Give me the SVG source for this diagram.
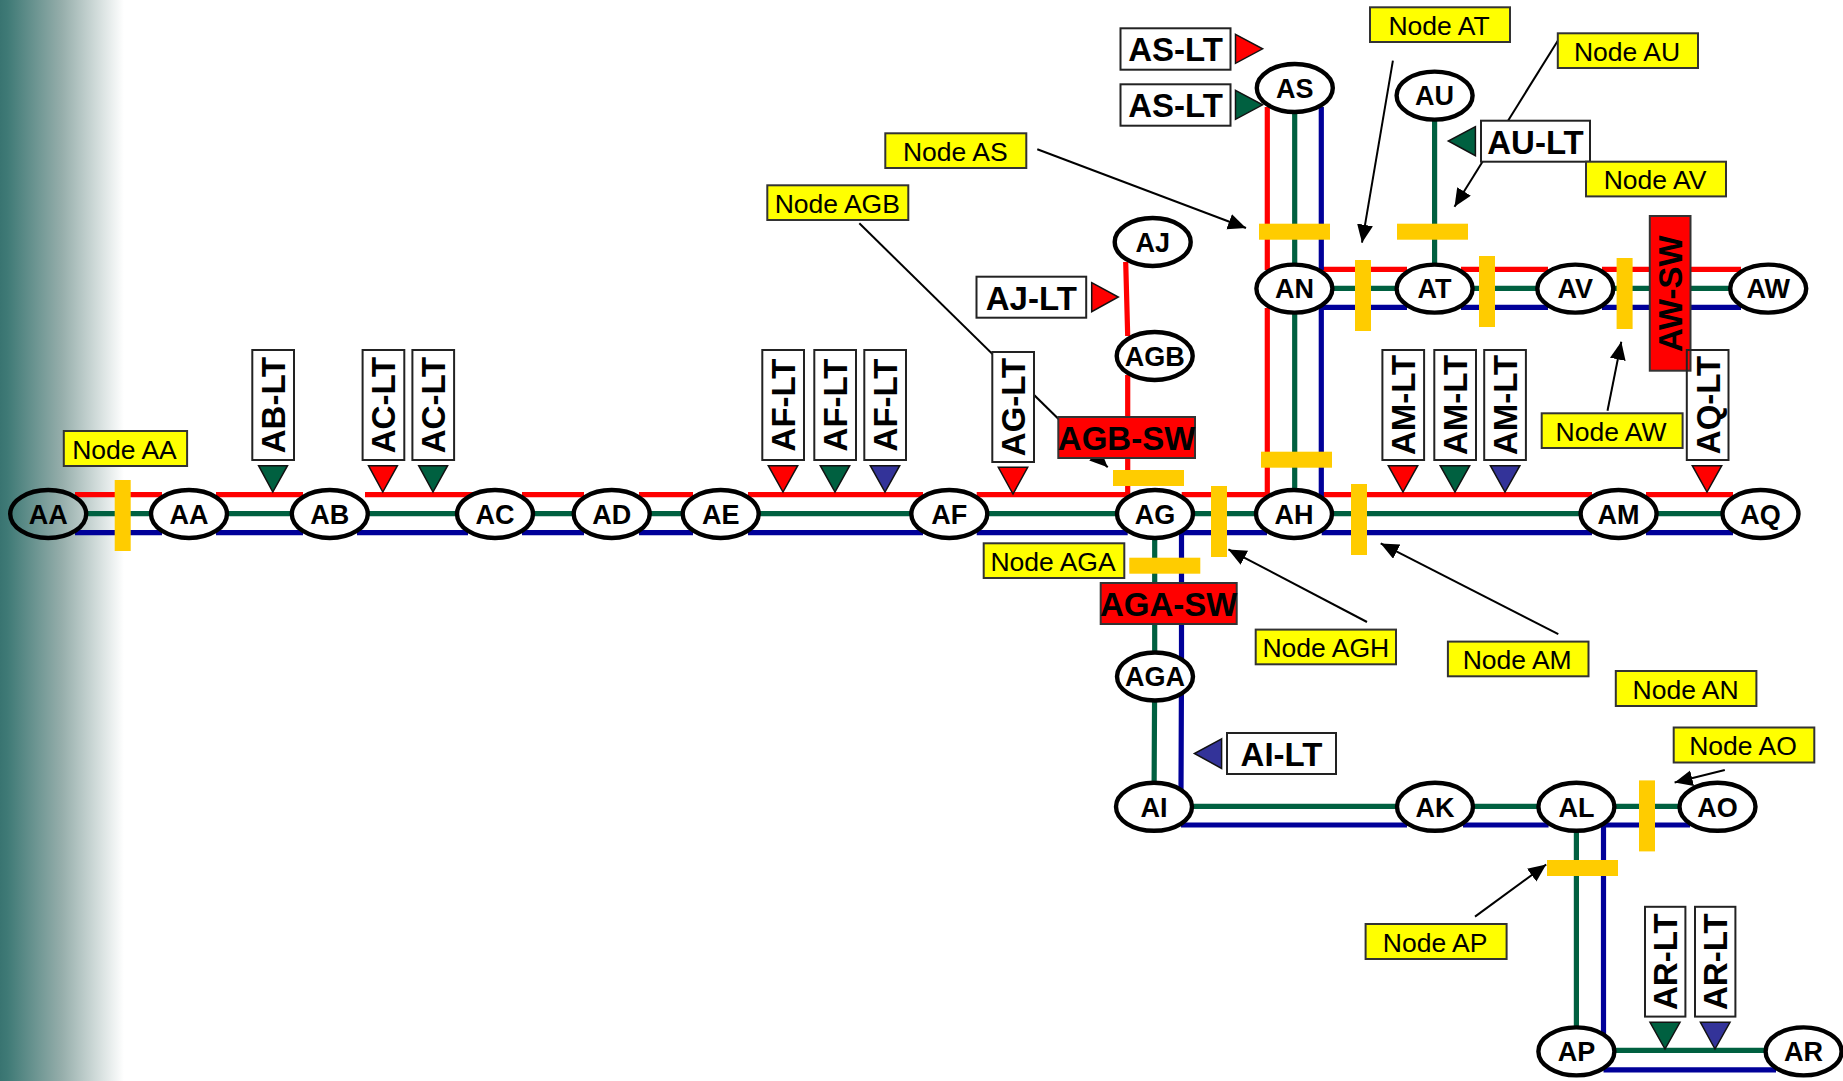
<svg xmlns="http://www.w3.org/2000/svg" width="1843" height="1081" viewBox="0 0 1843 1081">
<style>
text{font-family:"Liberation Sans",Arial,sans-serif;text-anchor:middle;fill:#000}
.n ellipse{fill:#fff;stroke:#000;stroke-width:4.4}
.n text{font-size:27px;font-weight:bold}
.y rect{fill:#ff0;stroke:#333;stroke-width:2}
.y text{font-size:26.5px}
.lt rect{fill:#fff;stroke:#222;stroke-width:2}
.lt text,.sw text{font-size:33px;font-weight:bold}
.sw rect{fill:#f00;stroke:#333;stroke-width:2}
.r,.g,.b{fill:none;stroke-width:5.2}
.r{stroke:#f00}.g{stroke:#006040}.b{stroke:#000099}
.bar{fill:#fc0}
.tr{fill:#f00}.tg{fill:#006040}.tb{fill:#333399}
.tri polygon{stroke:#111;stroke-width:1.5;stroke-linejoin:miter}
.ldr{stroke:#000;stroke-width:2;fill:none}
.arr{marker-end:url(#ah)}
</style>
<defs>
<linearGradient id="bg" x1="0" y1="0" x2="1" y2="0">
<stop offset="0" stop-color="#397471"/><stop offset="0.06" stop-color="#3f7a76"/><stop offset="0.5" stop-color="#96aeab"/><stop offset="1" stop-color="#fff"/>
</linearGradient>
<marker id="ah" markerUnits="userSpaceOnUse" markerWidth="20" markerHeight="18" refX="18" refY="8" orient="auto">
<path d="M0 0L18 8L0 16Z" fill="#000"/>
</marker>
</defs>
<rect x="0" y="0" width="124" height="1081" fill="url(#bg)"/>
<g id="connectors">
<path class="g" d="M88 513.7H1760M1294.7 107V513.7M1434.6 95V288.3M1294.7 288.3H1768M1154.7 513.7V676L1154 806.4H1717M1576.4 806.4V1050.4H1803"/>
<path class="r" d="M75 494.7H162M216 494.7H303M365 494.7H476M522 494.7H584M639 494.7H693M748 494.7H923M976.7 494.7H1127.7M1181.7 494.7H1267.3M1323 494.7H1592M1646 494.7H1733"/>
<path class="b" d="M75 532.7H162M216 532.7H303M357 532.7H468M522 532.7H584M639 532.7H693M748 532.7H923M976.7 532.7H1127.7M1180 532.7H1267M1321.7 532.7H1592M1646 532.7H1733"/>
<path class="r" d="M1267.3 107V270M1267.3 308V494.7M1322 269.3H1407M1461 269.3H1548M1602 269.3H1741"/>
<path class="b" d="M1321.3 107V270M1321.3 307V532.7M1322 307.3H1407M1461 307.3H1548M1602 307.3H1741"/>
<path class="r" d="M1125.7 262L1127.7 336M1127.7 375V494.7"/>
<path class="b" d="M1181.5 532.7V670L1181 790M1181 825H1407M1463 825H1548.6M1603.5 825H1690M1603.5 825V1036M1603.5 1069.8H1776"/>
<line class="ldr arr" x1="1037.3" y1="149.3" x2="1246" y2="228"/>
<line class="ldr arr" x1="1392.9" y1="60.7" x2="1362" y2="242.7"/>
<line class="ldr arr" x1="1557.8" y1="40.7" x2="1454.5" y2="206.7"/>
<line class="ldr arr" x1="1607.5" y1="410.7" x2="1621.3" y2="341.7"/>
<line class="ldr arr" x1="1367" y1="622" x2="1228.4" y2="549.4"/>
<line class="ldr arr" x1="1558.3" y1="634.2" x2="1380.7" y2="543.4"/>
<line class="ldr arr" x1="1724.8" y1="770" x2="1674.6" y2="782.5"/>
<line class="ldr arr" x1="1475" y1="916.6" x2="1546.2" y2="864.5"/>
<line class="ldr arr" x1="859.3" y1="223.3" x2="1107.7" y2="467.3"/>
</g>
<g id="bars">
<rect class="bar" x="114.7" y="480" width="16" height="71"/>
<rect class="bar" x="1211" y="486" width="16" height="71"/>
<rect class="bar" x="1351" y="484" width="16" height="71"/>
<rect class="bar" x="1259" y="223.7" width="71" height="16"/>
<rect class="bar" x="1261" y="451.7" width="71" height="16"/>
<rect class="bar" x="1113" y="470" width="71" height="16"/>
<rect class="bar" x="1129.3" y="557.7" width="71" height="16"/>
<rect class="bar" x="1397" y="223.7" width="71" height="16"/>
<rect class="bar" x="1355" y="260" width="16" height="71"/>
<rect class="bar" x="1479" y="256" width="16" height="71"/>
<rect class="bar" x="1616.6" y="258" width="16" height="71"/>
<rect class="bar" x="1639" y="780.4" width="16" height="71"/>
<rect class="bar" x="1547" y="860" width="71" height="16"/>
</g>
<g class="n" id="node-AA0"><ellipse cx="48.2" cy="514" rx="38" ry="24" style="fill:none"/><text x="48.2" y="523.8">AA</text></g>
<g class="n" id="node-AA"><ellipse cx="189" cy="514" rx="38" ry="24"/><text x="189" y="523.8">AA</text></g>
<g class="n" id="node-AB"><ellipse cx="329.8" cy="514" rx="38" ry="24"/><text x="329.8" y="523.8">AB</text></g>
<g class="n" id="node-AC"><ellipse cx="495" cy="514" rx="38" ry="24"/><text x="495" y="523.8">AC</text></g>
<g class="n" id="node-AD"><ellipse cx="611.7" cy="514" rx="38" ry="24"/><text x="611.7" y="523.8">AD</text></g>
<g class="n" id="node-AE"><ellipse cx="720.7" cy="514" rx="38" ry="24"/><text x="720.7" y="523.8">AE</text></g>
<g class="n" id="node-AF"><ellipse cx="949.3" cy="514" rx="38" ry="24"/><text x="949.3" y="523.8">AF</text></g>
<g class="n" id="node-AG"><ellipse cx="1155" cy="514" rx="38" ry="24"/><text x="1155" y="523.8">AG</text></g>
<g class="n" id="node-AH"><ellipse cx="1294" cy="514" rx="38" ry="24"/><text x="1294" y="523.8">AH</text></g>
<g class="n" id="node-AM"><ellipse cx="1618.6" cy="514" rx="38" ry="24"/><text x="1618.6" y="523.8">AM</text></g>
<g class="n" id="node-AQ"><ellipse cx="1760.5" cy="514" rx="38" ry="24"/><text x="1760.5" y="523.8">AQ</text></g>
<g class="n" id="node-AS"><ellipse cx="1294.8" cy="88" rx="38" ry="24"/><text x="1294.8" y="97.8">AS</text></g>
<g class="n" id="node-AU"><ellipse cx="1434.6" cy="95.6" rx="38" ry="24"/><text x="1434.6" y="105.4">AU</text></g>
<g class="n" id="node-AN"><ellipse cx="1294.4" cy="288.6" rx="38" ry="24"/><text x="1294.4" y="298.4">AN</text></g>
<g class="n" id="node-AT"><ellipse cx="1434.6" cy="288.6" rx="38" ry="24"/><text x="1434.6" y="298.4">AT</text></g>
<g class="n" id="node-AV"><ellipse cx="1575.3" cy="288.6" rx="38" ry="24"/><text x="1575.3" y="298.4">AV</text></g>
<g class="n" id="node-AW"><ellipse cx="1768.2" cy="288.6" rx="38" ry="24"/><text x="1768.2" y="298.4">AW</text></g>
<g class="n" id="node-AJ"><ellipse cx="1152.7" cy="242" rx="38" ry="24"/><text x="1152.7" y="251.8">AJ</text></g>
<g class="n" id="node-AGB"><ellipse cx="1154.7" cy="356" rx="38" ry="24"/><text x="1154.7" y="365.8">AGB</text></g>
<g class="n" id="node-AGA"><ellipse cx="1155" cy="676.5" rx="38" ry="24"/><text x="1155" y="686.3">AGA</text></g>
<g class="n" id="node-AI"><ellipse cx="1154" cy="806.8" rx="38" ry="24"/><text x="1154" y="816.6">AI</text></g>
<g class="n" id="node-AK"><ellipse cx="1435" cy="806.8" rx="38" ry="24"/><text x="1435" y="816.6">AK</text></g>
<g class="n" id="node-AL"><ellipse cx="1576.4" cy="806.8" rx="38" ry="24"/><text x="1576.4" y="816.6">AL</text></g>
<g class="n" id="node-AO"><ellipse cx="1717.5" cy="806.8" rx="38" ry="24"/><text x="1717.5" y="816.6">AO</text></g>
<g class="n" id="node-AP"><ellipse cx="1576.4" cy="1051.4" rx="38" ry="24"/><text x="1576.4" y="1061.2">AP</text></g>
<g class="n" id="node-AR"><ellipse cx="1803.6" cy="1051.4" rx="38" ry="24"/><text x="1803.6" y="1061.2">AR</text></g>
<g class="tri" id="indicators">
<polygon class="tg" points="258.6,465.7 287.5,465.7 272.8,492"/>
<polygon class="tr" points="368.5,465.7 397.4,465.7 382.8,492"/>
<polygon class="tg" points="418.7,465.7 447.6,465.7 433,492"/>
<polygon class="tr" points="768.3,465.7 797.7,465.7 783,492"/>
<polygon class="tg" points="820.3,465.7 849.7,465.7 835,492"/>
<polygon class="tb" points="870.3,465.7 899.7,465.7 885,492"/>
<polygon class="tr" points="998.3,467.3 1027.7,467.3 1013,494"/>
<polygon class="tr" points="1388.3,465.7 1417.7,465.7 1403,492"/>
<polygon class="tg" points="1440.2,465.7 1469.7,465.7 1455,492"/>
<polygon class="tb" points="1490.4,465.7 1519.9,465.7 1505,492"/>
<polygon class="tr" points="1692.3,465.7 1721.7,465.7 1707,492"/>
<polygon class="tg" points="1650,1022.3 1680,1022.3 1665,1049"/>
<polygon class="tb" points="1700.4,1022.3 1730,1022.3 1715,1049"/>
<polygon class="tr" points="1091.7,282.7 1118.3,297 1091.7,311.7"/>
<polygon class="tr" points="1235.5,34.3 1262.6,48.8 1235.5,63.3"/>
<polygon class="tg" points="1235.5,90.3 1262.6,104.8 1235.5,119.3"/>
<polygon class="tg" points="1475.4,126.7 1448.3,141 1475.4,155.7"/>
<polygon class="tb" points="1221.6,738.8 1194.4,753.5 1221.6,768.4"/>
</g>
<g class="sw" id="sw-AGB"><rect x="1058.3" y="417" width="136.7" height="41"/><text x="1126.6" y="449.5">AGB-SW</text></g>
<g class="sw" id="sw-AGA"><rect x="1100.7" y="583" width="136" height="41"/><text x="1168.7" y="615.5">AGA-SW</text></g>
<g class="sw" id="sw-AW"><rect x="1649.8" y="216" width="40.7" height="154.7"/><text transform="translate(1670.2 293.7) rotate(-90)" y="12">AW-SW</text></g>
<g class="lt" id="lt-AB"><rect x="252.3" y="350" width="41.7" height="110"/><text transform="translate(273.2 405) rotate(-90)" y="12">AB-LT</text></g>
<g class="lt" id="lt-AC1"><rect x="362.6" y="350" width="41.7" height="110"/><text transform="translate(383.4 405) rotate(-90)" y="12">AC-LT</text></g>
<g class="lt" id="lt-AC2"><rect x="412.4" y="350" width="41.7" height="110"/><text transform="translate(433.2 405) rotate(-90)" y="12">AC-LT</text></g>
<g class="lt" id="lt-AF1"><rect x="762.3" y="350" width="41.7" height="110"/><text transform="translate(783.2 405) rotate(-90)" y="12">AF-LT</text></g>
<g class="lt" id="lt-AF2"><rect x="814.3" y="350" width="41.7" height="110"/><text transform="translate(835.2 405) rotate(-90)" y="12">AF-LT</text></g>
<g class="lt" id="lt-AF3"><rect x="864.3" y="350" width="41.7" height="110"/><text transform="translate(885.2 405) rotate(-90)" y="12">AF-LT</text></g>
<g class="lt" id="lt-AG"><rect x="992.3" y="352" width="41.7" height="110"/><text transform="translate(1013.2 407) rotate(-90)" y="12">AG-LT</text></g>
<g class="lt" id="lt-AM1"><rect x="1382.4" y="350" width="41.7" height="110"/><text transform="translate(1403.2 405) rotate(-90)" y="12">AM-LT</text></g>
<g class="lt" id="lt-AM2"><rect x="1434.3" y="350" width="41.7" height="110"/><text transform="translate(1455.2 405) rotate(-90)" y="12">AM-LT</text></g>
<g class="lt" id="lt-AM3"><rect x="1484.2" y="350" width="41.7" height="110"/><text transform="translate(1505 405) rotate(-90)" y="12">AM-LT</text></g>
<g class="lt" id="lt-AQ"><rect x="1686.8" y="350" width="41.7" height="110" style="fill:none"/><text transform="translate(1707.6 405) rotate(-90)" y="12">AQ-LT</text></g>
<g class="lt" id="lt-AR1"><rect x="1645" y="906.8" width="40.4" height="109.8"/><text transform="translate(1665.2 961.7) rotate(-90)" y="12">AR-LT</text></g>
<g class="lt" id="lt-AR2"><rect x="1695" y="906.8" width="40.4" height="109.8"/><text transform="translate(1715.2 961.7) rotate(-90)" y="12">AR-LT</text></g>
<g class="lt" id="lt-AS1"><rect x="1120.5" y="28.3" width="110" height="41.4"/><text x="1175.5" y="61">AS-LT</text></g>
<g class="lt" id="lt-AS2"><rect x="1120.5" y="84.3" width="110" height="41.4"/><text x="1175.5" y="117">AS-LT</text></g>
<g class="lt" id="lt-AJ"><rect x="976.5" y="276.7" width="109.7" height="41"/><text x="1031.3" y="309.5">AJ-LT</text></g>
<g class="lt" id="lt-AU"><rect x="1481" y="120.7" width="109" height="41"/><text x="1535.5" y="153.5">AU-LT</text></g>
<g class="lt" id="lt-AI"><rect x="1227" y="733" width="109" height="41"/><text x="1281.5" y="765.5">AI-LT</text></g>
<g class="y" id="lbl-AA"><rect x="63.8" y="431" width="123.3" height="35"/><text x="124.5" y="458.5">Node AA</text></g>
<g class="y" id="lbl-AS"><rect x="885.3" y="133.3" width="141" height="34.7"/><text x="955.3" y="161">Node AS</text></g>
<g class="y" id="lbl-AGB"><rect x="767.3" y="185.3" width="141" height="34.7"/><text x="837.3" y="213">Node AGB</text></g>
<g class="y" id="lbl-AT"><rect x="1370" y="7.3" width="140" height="34.7"/><text x="1439" y="35">Node AT</text></g>
<g class="y" id="lbl-AU"><rect x="1557.8" y="33.3" width="140.2" height="34.7"/><text x="1627" y="61">Node AU</text></g>
<g class="y" id="lbl-AV"><rect x="1586" y="161.7" width="140" height="34.7"/><text x="1655" y="189.4">Node AV</text></g>
<g class="y" id="lbl-AGA"><rect x="983.7" y="543.3" width="140.6" height="34.7"/><text x="1053" y="571">Node AGA</text></g>
<g class="y" id="lbl-AGH"><rect x="1255.7" y="629.6" width="140.3" height="34.7"/><text x="1325.8" y="657.3">Node AGH</text></g>
<g class="y" id="lbl-AM"><rect x="1447.9" y="641.6" width="140.6" height="34.7"/><text x="1517.2" y="669.3">Node AM</text></g>
<g class="y" id="lbl-AN"><rect x="1615.8" y="671" width="140.6" height="35"/><text x="1685.6" y="698.8">Node AN</text></g>
<g class="y" id="lbl-AO"><rect x="1673.7" y="727.5" width="140.6" height="35"/><text x="1743" y="755.3">Node AO</text></g>
<g class="y" id="lbl-AP"><rect x="1365.6" y="924" width="141" height="35"/><text x="1435.1" y="951.8">Node AP</text></g>
<g class="y" id="lbl-AW"><rect x="1541.7" y="413.3" width="140.9" height="34.7"/><text x="1611.1" y="441">Node AW</text></g>
</svg>
